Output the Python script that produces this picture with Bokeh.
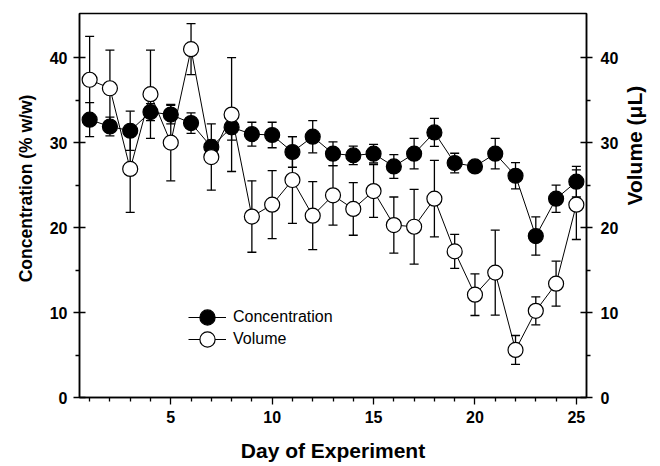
import math
from bokeh.plotting import figure
from bokeh.models import (ColumnDataSource, Whisker, TeeHead, LinearAxis, Range1d,
                          FixedTicker, Legend, LegendItem)
from bokeh.embed import file_html
from bokeh.resources import INLINE

# ---- data ----
days = list(range(1, 26))
conc = [32.7, 31.9, 31.4, 33.6, 33.3, 32.3, 29.5, 31.8, 31.0, 30.9, 28.9, 30.7, 28.7,
        28.5, 28.7, 27.2, 28.7, 31.2, 27.6, 27.2, 28.7, 26.1, 19.0, 23.4, 25.4]
conc_err = [2.0, 1.1, 2.3, 1.0, 1.1, 1.2, 0.8, 1.5, 1.4, 1.5, 1.8, 1.9, 1.4,
            1.1, 1.1, 1.4, 1.8, 1.65, 1.15, 0.6, 1.8, 1.55, 2.25, 1.6, 1.8]
vol = [37.4, 36.4, 26.9, 35.7, 30.0, 41.0, 28.3, 33.3, 21.3, 22.7, 25.6, 21.4, 23.8,
       22.2, 24.3, 20.3, 20.1, 23.4, 17.2, 12.1, 14.7, 5.6, 10.2, 13.4, 22.7]
vol_err = [5.1, 4.5, 5.1, 5.2, 4.5, 3.0, 3.9, 6.7, 4.2, 4.0, 5.1, 4.0, 3.5,
           3.1, 3.1, 3.3, 4.4, 4.5, 2.0, 2.45, 5.0, 1.7, 1.65, 2.65, 4.1]
x_ticks = [5, 10, 15, 20, 25]
x_minor = [d for d in days if d % 5 != 0]
y_ticks = [0, 10, 20, 30, 40]
y_minor = [5, 15, 25, 35]
x_label = "Day of Experiment"
y_label = "Concentration (% w/w)"
y2_label = "Volume (\u03bcL)"
legend_labels = ["Concentration", "Volume"]

FONT = "Liberation Sans"

p = figure(width=660, height=466, output_backend="svg", toolbar_location=None,
           x_range=Range1d(0.5, 25.5), y_range=Range1d(0, 45.2),
           min_border_left=79, min_border_right=69, min_border_top=13,
           min_border_bottom=69)
p.extra_y_ranges = {"vol": Range1d(0, 45.2)}
p.xgrid.visible = False
p.ygrid.visible = False
p.outline_line_color = "black"
p.outline_line_width = 1.5
p.background_fill_color = "white"
p.border_fill_color = "white"

ax2 = LinearAxis(y_range_name="vol")
p.add_layout(ax2, "right")

p.xaxis.ticker = FixedTicker(ticks=x_ticks, minor_ticks=x_minor)
p.yaxis[0].ticker = FixedTicker(ticks=y_ticks, minor_ticks=y_minor)
ax2.ticker = FixedTicker(ticks=y_ticks, minor_ticks=y_minor)

for ax in [p.xaxis[0], p.yaxis[0], ax2]:
    ax.axis_line_width = 1.5
    ax.axis_line_color = "black"
    ax.major_tick_line_width = 1.3
    ax.minor_tick_line_width = 1.3
    ax.major_tick_line_color = "black"
    ax.minor_tick_line_color = "black"
    ax.major_label_text_font = FONT
    ax.major_label_text_font_size = "16px"
    ax.major_label_text_font_style = "bold"
    ax.major_label_text_color = "black"
    ax.axis_label_text_font = FONT
    ax.axis_label_text_font_style = "bold"
    ax.axis_label_text_color = "black"

xa = p.xaxis[0]
xa.major_tick_in = 0
xa.major_tick_out = 7
xa.minor_tick_in = 0
xa.minor_tick_out = 4
xa.major_label_standoff = 6
xa.axis_label = x_label
xa.axis_label_text_font_size = "21px"
xa.axis_label_standoff = 13

ya = p.yaxis[0]
for ax in [ya, ax2]:
    ax.major_tick_in = 6
    ax.major_tick_out = 6
    ax.minor_tick_in = 0
    ax.minor_tick_out = 4
ya.major_label_standoff = 6
ya.axis_label = "\u00a0" * 7 + y_label
ya.axis_label_text_font_size = "17.5px"
ya.axis_label_standoff = 11

ax2.major_label_standoff = 8
ax2.axis_label = y2_label
ax2.axis_label_text_font_size = "21px"
ax2.axis_label_standoff = 13
ax2.axis_label_orientation = math.pi / 2
ax2.axis_label_text_baseline = "top"

# error bars
src_c = ColumnDataSource(dict(x=days, upper=[c + e for c, e in zip(conc, conc_err)],
                              lower=[c - e for c, e in zip(conc, conc_err)]))
src_v = ColumnDataSource(dict(x=days, upper=[v + e for v, e in zip(vol, vol_err)],
                              lower=[v - e for v, e in zip(vol, vol_err)]))
for src in (src_c, src_v):
    w = Whisker(source=src, base="x", upper="upper", lower="lower", dimension="height",
                line_color="black", line_width=1.3,
                upper_head=TeeHead(size=9, line_width=1.3, line_color="black"),
                lower_head=TeeHead(size=9, line_width=1.3, line_color="black"))
    w.level = "underlay"
    p.add_layout(w)

r_cl = p.line(days, conc, line_color="black", line_width=1)
r_vl = p.line(days, vol, line_color="black", line_width=1)
r_cs = p.scatter(days, conc, marker="circle", size=15, fill_color="black",
                 line_color="black", line_width=1.2)
r_vs = p.scatter(days, vol, marker="circle", size=15, fill_color="white",
                 line_color="black", line_width=1.2)

for lbl, rends, loc in [(legend_labels[0], [r_cl, r_cs], (109, 61)),
                        (legend_labels[1], [r_vl, r_vs], (109, 39))]:
    lg = Legend(items=[LegendItem(label=lbl, renderers=rends)], location=loc,
                padding=0, margin=0, glyph_width=38, glyph_height=38,
                label_standoff=7, label_text_font=FONT, label_text_font_size="16px",
                label_text_color="black", border_line_color=None,
                background_fill_alpha=0)
    p.add_layout(lg)

open("out.html", "w").write(file_html(p, INLINE))
